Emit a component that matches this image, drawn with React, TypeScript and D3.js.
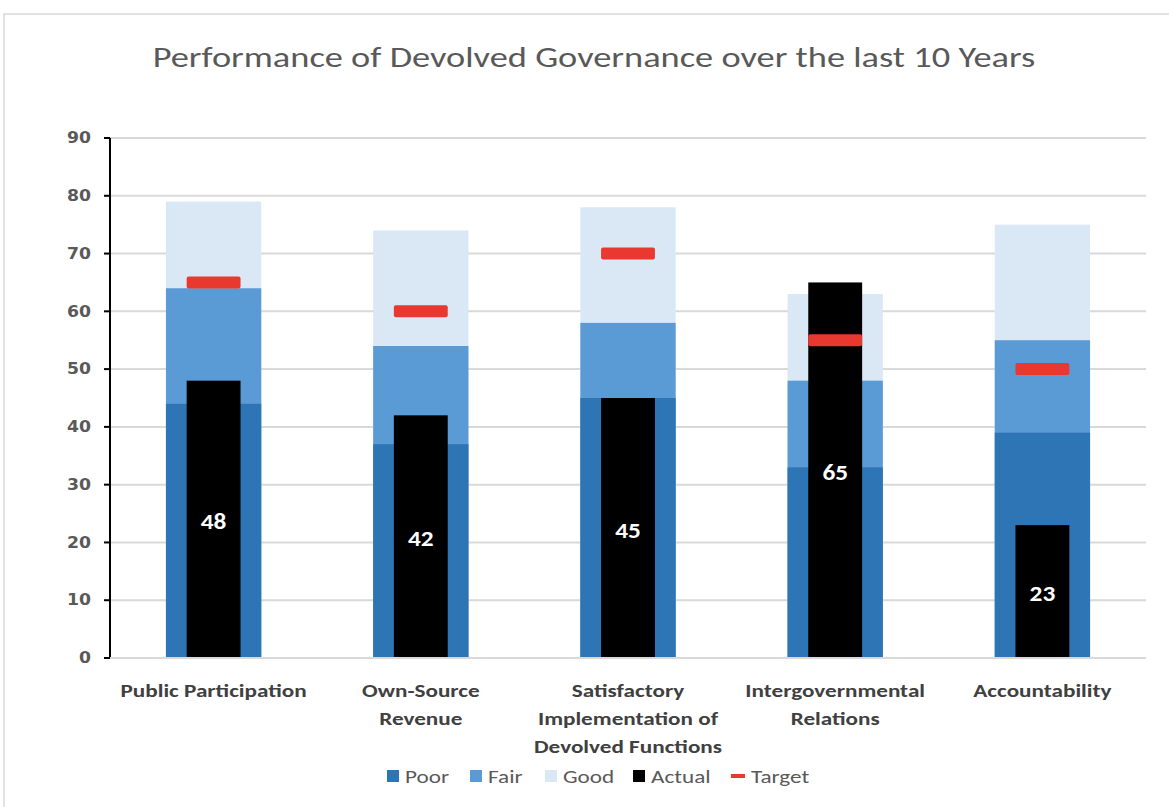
import React from "react";
import * as d3 from "d3";

const categories = [
  ["Public Participation"],
  ["Own-Source", "Revenue"],
  ["Satisfactory", "Implementation of", "Devolved Functions"],
  ["Intergovernmental", "Relations"],
  ["Accountability"],
];
const poor = [44, 37, 45, 33, 39];
const fair = [64, 54, 58, 48, 55];
const good = [79, 74, 78, 63, 75];
const actual = [48, 42, 45, 65, 23];
const target = [65, 60, 70, 55, 50];
const yTicks = [0, 10, 20, 30, 40, 50, 60, 70, 80, 90];
const legendItems = [
  { label: "Poor", key: "poor" },
  { label: "Fair", key: "fair" },
  { label: "Good", key: "good" },
  { label: "Actual", key: "actual" },
  { label: "Target", key: "target" },
];

const W = 1169;
const H = 807;
const colors: Record<string, string> = {
  poor: "#2e75b6",
  fair: "#5b9bd5",
  good: "#dae8f5",
  actual: "#000000",
  target: "#e8382f",
};
const font = "Carlito, Lato, 'Open Sans', sans-serif";

function SText(props: {
  x: number;
  y: number;
  sx: number;
  anchor?: string;
  size: number;
  weight?: string;
  fill: string;
  family?: string;
  children: React.ReactNode;
}) {
  return (
    <text
      transform={`translate(${props.x},${props.y}) scale(${props.sx},1)`}
      dy="0.35em"
      textAnchor={props.anchor || "start"}
      fontSize={props.size}
      fontWeight={props.weight || "normal"}
      fill={props.fill}
      fontFamily={props.family || font}
    >
      {props.children}
    </text>
  );
}

export default function App() {
  const x0 = 110;
  const x1 = 1146;
  const y = d3.scaleLinear().domain([0, 90]).range([658, 138]);
  const x = d3
    .scaleBand<number>()
    .domain(d3.range(categories.length))
    .range([x0, x1]);
  const bw = x.bandwidth();
  const outerW = bw * 0.46;
  const innerW = bw * 0.26;
  const legendX = [387, 470, 545, 633, 731];

  return (
    <svg
      width={W}
      height={H}
      style={{ position: "absolute", left: 0, top: 0, background: "#fff" }}
      fontFamily={font}
    >
      <rect x={4} y={14} width={W + 10} height={H + 10} fill="#fff" stroke="#d9d9d9" strokeWidth={1.5} />
      <SText x={594} y={57} sx={1.3} anchor="middle" size={28} fill="#595959">
        Performance of Devolved Governance over the last 10 Years
      </SText>
      {yTicks.map((t) => (
        <g key={t}>
          <line x1={x0} x2={x1} y1={y(t)} y2={y(t)} stroke="#d9d9d9" strokeWidth={2} />
          <line x1={104} x2={x0} y1={y(t)} y2={y(t)} stroke="#000" strokeWidth={2} />
          <SText x={91} y={y(t)} sx={1.15} anchor="end" size={15} weight="bold" fill="#595959" family="'DejaVu Sans', sans-serif">
            {t}
          </SText>
        </g>
      ))}
      {categories.map((c, i) => {
        const cx = (x(i) as number) + bw / 2;
        return (
          <g key={i}>
            <rect x={cx - outerW / 2} y={y(good[i])} width={outerW} height={y(0) - y(good[i])} fill={colors.good} />
            <rect x={cx - outerW / 2} y={y(fair[i])} width={outerW} height={y(0) - y(fair[i])} fill={colors.fair} />
            <rect x={cx - outerW / 2} y={y(poor[i])} width={outerW} height={y(0) - y(poor[i])} fill={colors.poor} />
            <rect x={cx - innerW / 2} y={y(actual[i])} width={innerW} height={y(0) - y(actual[i])} fill={colors.actual} />
            <rect x={cx - innerW / 2} y={y(target[i]) - 6} width={innerW} height={12} rx={2} fill={colors.target} />
            <SText x={cx} y={(y(actual[i]) + y(0)) / 2 + 2} sx={1.15} anchor="middle" size={22} weight="bold" fill="#fff">
              {actual[i]}
            </SText>
            {c.map((line, j) => (
              <SText key={j} x={cx} y={690 + j * 28} sx={1.22} anchor="middle" size={19} weight="bold" fill="#404040">
                {line}
              </SText>
            ))}
          </g>
        );
      })}
      <line x1={x0} x2={x0} y1={y(90)} y2={y(0)} stroke="#000" strokeWidth={2} />
      <line x1={x0} x2={x1} y1={y(0)} y2={y(0)} stroke="#d9d9d9" strokeWidth={2} />
      {legendItems.map((it, i) => (
        <g key={it.key}>
          {it.key === "target" ? (
            <rect x={legendX[i]} y={774} width={14} height={4} fill={colors.target} />
          ) : (
            <rect x={legendX[i]} y={770} width={12} height={12} fill={colors[it.key]} />
          )}
          <SText x={legendX[i] + (it.key === "target" ? 20 : 18)} y={776} sx={1.22} size={19} fill="#595959">
            {it.label}
          </SText>
        </g>
      ))}
    </svg>
  );
}
